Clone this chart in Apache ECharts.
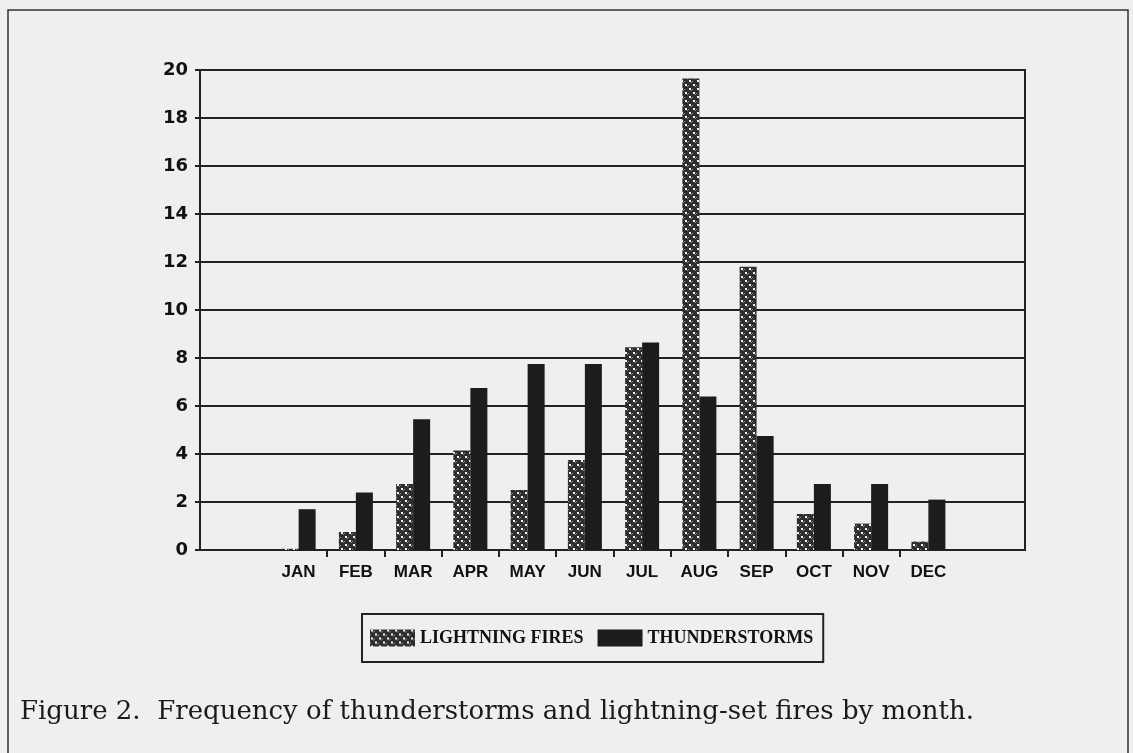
<!DOCTYPE html>
<html>
<head>
<meta charset="utf-8">
<script src="https://cdn.jsdelivr.net/npm/echarts@6/dist/echarts.min.js"></script>
<style>
  html, body { margin: 0; padding: 0; background: #efefed; }
  #chart { width: 1133px; height: 753px; }
</style>
</head>
<body>
<div id="chart"></div>
<script>
const months = ['JAN', 'FEB', 'MAR', 'APR', 'MAY', 'JUN', 'JUL', 'AUG', 'SEP', 'OCT', 'NOV', 'DEC'];
const lightningFires = [0.05, 0.75, 2.75, 4.15, 2.5, 3.75, 8.45, 19.65, 11.8, 1.5, 1.1, 0.35];
const thunderstorms = [1.7, 2.4, 5.45, 6.75, 7.75, 7.75, 8.65, 6.4, 4.75, 2.75, 2.75, 2.1];
const tickSlots = ['', '', '', '', '', '', '', '', '', '', ''];
const caption = 'Figure 2.  Frequency of thunderstorms and lightning-set fires by month.';

const ink = '#222';

// dotted cross-hatch fill for the fires bars
const makePattern = () => {
  const c = document.createElement('canvas');
  c.width = 8;
  c.height = 8;
  const ctx = c.getContext('2d');
  ctx.fillStyle = '#2e2e2e';
  ctx.fillRect(0, 0, 8, 8);
  ctx.fillStyle = '#8a8a8a';
  ctx.fillRect(4, 1, 1, 1);
  ctx.fillRect(0, 5, 1, 1);
  ctx.fillRect(3, 2, 1, 1);
  ctx.fillRect(7, 6, 1, 1);
  ctx.fillStyle = '#f4f4f4';
  ctx.fillRect(1, 0, 2, 2);
  ctx.fillRect(5, 4, 2, 2);
  return c;
};

const initChart = () => {
  const chart = echarts.init(document.getElementById('chart'));
  const pattern = { image: makePattern(), repeat: 'repeat' };

  chart.setOption({
    backgroundColor: '#efefed',
    animation: false,
    grid: [
      { left: 200, top: 70, width: 825, height: 480, show: true, borderColor: ink, borderWidth: 2, backgroundColor: 'transparent' },
      { left: 270, top: 70, width: 687, height: 480 },
      { left: 327, top: 70, width: 573, height: 480 }
    ],
    xAxis: [
      {
        gridIndex: 0, type: 'value', min: 0, max: 1,
        axisLine: { show: true, lineStyle: { color: ink, width: 2 } },
        axisTick: { show: false }, axisLabel: { show: false }, splitLine: { show: false }
      },
      {
        gridIndex: 1, type: 'category', data: months,
        axisLine: { show: false }, axisTick: { show: false },
        axisLabel: { color: '#111', fontFamily: 'Liberation Sans', fontWeight: 'bold', fontSize: 17, margin: 14 }
      },
      {
        gridIndex: 2, type: 'category', data: tickSlots, boundaryGap: false,
        axisLine: { show: false }, axisLabel: { show: false },
        axisTick: { show: true, length: 7, lineStyle: { color: ink, width: 2 } }
      }
    ],
    yAxis: [
      {
        gridIndex: 0, type: 'value', min: 0, max: 20, interval: 2,
        axisLine: { show: true, lineStyle: { color: ink, width: 2 } },
        axisTick: { show: true, length: 5, lineStyle: { color: ink, width: 2 } },
        axisLabel: { color: '#111', fontFamily: 'DejaVu Sans', fontWeight: 'bold', fontSize: 18, margin: 12 },
        splitLine: { show: true, lineStyle: { color: ink, width: 2 } }
      },
      { gridIndex: 1, type: 'value', min: 0, max: 20, show: false },
      { gridIndex: 2, type: 'value', min: 0, max: 20, show: false }
    ],
    legend: {
      left: 362, top: 614,
      padding: [15, 10, 15, 8],
      borderColor: ink, borderWidth: 2,
      itemWidth: 45, itemHeight: 17, itemGap: 14,
      icon: 'rect',
      textStyle: { color: '#111', fontFamily: 'Liberation Serif', fontWeight: 'bold', fontSize: 18 },
      data: ['LIGHTNING FIRES', 'THUNDERSTORMS']
    },
    graphic: [
      {
        type: 'rect', silent: true,
        shape: { x: 8, y: 10, width: 1120, height: 800 },
        style: { fill: 'none', stroke: '#333', lineWidth: 1.5 }
      },
      {
        type: 'text', left: 20, top: 699,
        style: { text: caption, fill: '#1a1a1a', font: '26px "DejaVu Serif"' }
      }
    ],
    series: [
      {
        name: 'LIGHTNING FIRES', type: 'bar', xAxisIndex: 1, yAxisIndex: 1,
        data: lightningFires, barWidth: 17, barGap: '0%',
        itemStyle: { color: pattern }
      },
      {
        name: 'THUNDERSTORMS', type: 'bar', xAxisIndex: 1, yAxisIndex: 1,
        data: thunderstorms, barWidth: 17, barGap: '0%',
        itemStyle: { color: '#1c1c1c' }
      }
    ]
  });
};

window.addEventListener('load', () => {
  initChart();
});
</script>
</body>
</html>
